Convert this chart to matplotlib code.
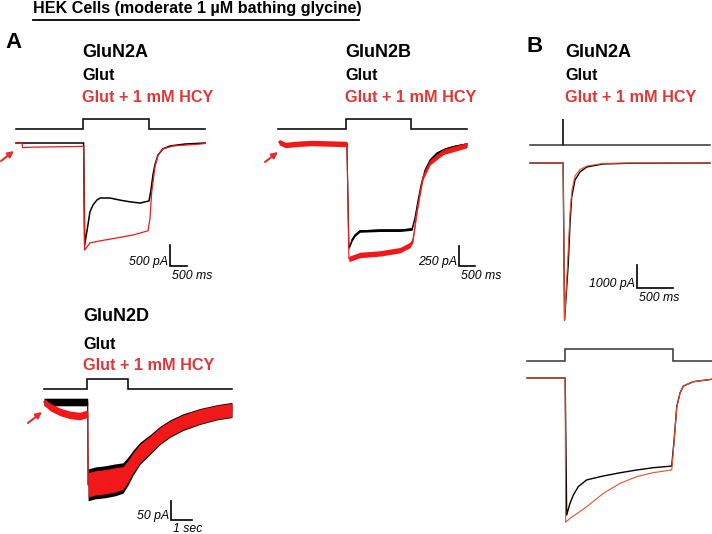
import matplotlib
matplotlib.use("Agg")
import matplotlib.pyplot as plt
from matplotlib.lines import Line2D
import numpy as np

plt.rcParams['font.family'] = ['Liberation Sans', 'DejaVu Sans']

W, H = 712, 534

# ---------------- data (t in ms, I in pA) ----------------
# Panel A, GluN2A
a2a_t_black = [0, 2050, 2080, 2180, 2240, 2330, 2450, 2550, 2850, 3150, 3450, 3760, 4030, 4090, 4150, 4210, 4300, 4450, 4670, 5120, 5730]
a2a_i_black = [0, 0, -2430, -1950, -1640, -1480, -1360, -1310, -1310, -1360, -1400, -1430, -1380, -1120, -760, -520, -290, -140, -70, -25, 0]
a2a_t_red = [0, 180, 200, 500, 2050, 2080, 2240, 2545, 3060, 3545, 4000, 4060, 4110, 4210, 4300, 4455, 4760, 5580, 5730]
a2a_i_red = [0, 0, -110, -100, -80, -2550, -2380, -2330, -2260, -2190, -2090, -1800, -1190, -570, -290, -140, -70, -25, -10]

# Panel A, GluN2B
a2b_t_black = [0, 200, 500, 1000, 1500, 2000, 2090, 2150, 2250, 2340, 2490, 3110, 3720, 4090, 4180, 4280, 4370, 4490, 4650, 4860, 5110, 5415, 5780]
a2b_i_black = [12, -25, -12, 0, -6, -12, -12, -1310, -1210, -1150, -1100, -1090, -1090, -1075, -940, -710, -525, -340, -210, -125, -75, -40, -12]
a2b_t_red = [0, 200, 500, 1000, 1500, 2000, 2090, 2150, 2490, 3110, 3720, 4030, 4120, 4250, 4340, 4430, 4650, 5050, 5785]
a2b_i_red = [12, -25, -12, 0, -6, -12, -12, -1450, -1400, -1380, -1340, -1275, -1210, -840, -625, -425, -240, -112, -25]
a2b_noise_black = 16
a2b_noise_red = 34

# Panel A, GluN2D
a2d_t_black = [0, 500, 1000, 1500, 2000, 2080, 2100, 2430, 2900, 3380, 3760, 4000, 4240, 4570, 5050, 5520, 6000, 6620, 7430, 8240, 8950]
a2d_i_black = [0, 0, 0, 0, 0, 0, -218, -213, -210, -205, -200, -182, -160, -135, -112, -88, -70, -53, -38, -27, -21]
a2d_n_black = [10, 10, 10, 10, 10, 10, 42, 42, 42, 42, 40, 37, 33, 29, 26, 24, 23, 22, 21, 20, 20]
a2d_t_red = [0, 290, 760, 1240, 1710, 2000, 2080, 2100, 2430, 2900, 3380, 3760, 4000, 4240, 4570, 5050, 5520, 6000, 6620, 7430, 8240, 8950]
a2d_i_red = [0, -13, -26, -34, -37, -32, -32, -218, -213, -210, -205, -200, -182, -160, -135, -112, -88, -70, -53, -38, -27, -21]
a2d_n_red = [9, 10, 10, 10, 10, 10, 10, 32, 32, 32, 32, 30, 28, 26, 24, 22, 21, 20, 19, 19, 18, 18]

# Panel B, GluN2A brief pulse
b1_t_black = [0, 460, 480, 532, 556, 579, 625, 694, 788, 1014, 1390, 2500]
b1_i_black = [0, 0, -6830, -4350, -2610, -1480, -740, -390, -174, -43, -10, 0]
b1_t_red = [0, 460, 480, 528, 556, 583, 625, 694, 792, 1014, 1390, 2500]
b1_i_red = [0, 0, -6830, -4000, -2170, -1170, -565, -280, -130, -20, 0, 0]

# Panel B, GluN2A long pulse
b2_t_black = [0, 530, 551, 597, 643, 713, 829, 1060, 1292, 1524, 1754, 2010, 2043, 2080, 2125, 2171, 2310, 2565]
b2_i_black = [0, 0, -5960, -5450, -5090, -4720, -4430, -4260, -4120, -4000, -3900, -3830, -2700, -1250, -650, -350, -160, -57]
b2_t_red = [0, 530, 537, 597, 713, 829, 1060, 1292, 1524, 1754, 2010, 2043, 2080, 2125, 2171, 2310, 2565]
b2_i_red = [0, 0, -6275, -6100, -5856, -5595, -5015, -4580, -4290, -4115, -4000, -2750, -1280, -660, -350, -160, -57]

# stimulus steps: (start, on, off, end) in ms
stim_a2a = [0, 2030, 4030, 5730]
stim_a2b = [-30, 2062, 4062, 5785]
stim_a2d = [0, 2048, 4000, 8952]
stim_b1 = [0, 458, 458, 2500]
stim_b2 = [0, 528, 2028, 2570]

RED = '#f01818'
RED_B = '#e8502f'
RED_TXT = '#e23636'

fig = plt.figure(figsize=(W / 100, H / 100), dpi=100)


def panel_axes(x0, y0, sx, sy, tlim, ilim):
    left = x0 + tlim[0] * sx
    right = x0 + tlim[1] * sx
    top = y0 - ilim[1] * sy
    bottom = y0 - ilim[0] * sy
    ax = fig.add_axes([left / W, 1 - bottom / H, (right - left) / W, (bottom - top) / H])
    ax.set_xlim(tlim)
    ax.set_ylim(ilim)
    ax.axis('off')
    return ax


def stim(ax, s, low, high, color='#111111', lw=1.2):
    t0, on, off, t1 = s
    ax.plot([t0, on, on, off, off, t1], [low, low, high, high, low, low],
            color=color, lw=lw, solid_joinstyle='miter', clip_on=False)


def scalebar(ax, t, i, dt, di, ylab, xlab, fs=8.8, xoff=-13):
    ax.plot([t, t, t + dt], [i + di, i, i], color='black', lw=1.2, clip_on=False,
            solid_joinstyle='miter')
    ax.annotate(ylab, (t, i), xytext=(-2, 1), textcoords='offset pixels',
                ha='right', va='baseline', fontsize=fs, style='italic',
                annotation_clip=False)
    ax.annotate(xlab, (t, i), xytext=(2, xoff), textcoords='offset pixels',
                ha='left', va='baseline', fontsize=fs, style='italic',
                annotation_clip=False)


zc = [2]


def band(ax, t, i, n, color, lw=0.8):
    t = np.asarray(t, float)
    i = np.asarray(i, float)
    n = np.broadcast_to(np.asarray(n, float), i.shape)
    ax.fill_between(t, i - n, i + n, color=color, lw=0, clip_on=False, zorder=zc[0])
    ax.plot(t, i, color=color, lw=lw, clip_on=False, zorder=zc[0] + 0.1)
    zc[0] += 1


# ---- Panel A GluN2A ----
ax = panel_axes(16, 143, 0.033, 0.042, (0, 5730), (-2700, 650))
stim(ax, stim_a2a, 333, 571)
ax.plot(a2a_t_black, a2a_i_black, color='black', lw=1.1, clip_on=False)
ax.plot(a2a_t_red, a2a_i_red, color=RED, lw=0.9, clip_on=False)
scalebar(ax, 4667, -2929, 500, 500, '500 pA', '500 ms')

# ---- Panel A GluN2B ----
ax = panel_axes(279, 143, 0.0325, 0.08, (-30, 5790), (-1600, 320))
stim(ax, stim_a2b, 175, 300)
band(ax, a2b_t_black, a2b_i_black, a2b_noise_black, 'black')
band(ax, a2b_t_red, a2b_i_red, a2b_noise_red, RED)
ax.plot(a2b_t_black[8:14], a2b_i_black[8:14], color='black', lw=1.0, zorder=10)
scalebar(ax, 5538, -1537, 500, 250, '250 pA', '500 ms')

# ---- Panel A GluN2D ----
ax = panel_axes(44, 402, 0.021, 0.38, (0, 8960), (-330, 70))
stim(ax, stim_a2d, 34, 60.5)
band(ax, a2d_t_black, a2d_i_black, a2d_n_black, 'black')
band(ax, a2d_t_red, a2d_i_red, a2d_n_red, RED)
scalebar(ax, 6048, -310.5, 1000, 50, '50 pA', '1 sec', xoff=-12)

# ---- Panel B brief pulse ----
ax = panel_axes(530, 163, 0.072, 0.023, (0, 2500), (-7000, 2000))
stim(ax, stim_b1, 783, 1913, color='#333333', lw=1.1)
ax.plot(b1_t_black, b1_i_black, color='black', lw=1.0, clip_on=False)
ax.plot(b1_t_red, b1_i_red, color=RED_B, lw=0.8, clip_on=False)
scalebar(ax, 1486, -5435, 500, 1000, '1000 pA', '500 ms')

# ---- Panel B long pulse ----
ax = panel_axes(527, 378, 0.072, 0.023, (0, 2570), (-6400, 1300))
stim(ax, stim_b2, 739, 1261, color='#333333', lw=1.1)
ax.plot(b2_t_black, b2_i_black, color='black', lw=1.0, clip_on=False)
ax.plot(b2_t_red, b2_i_red, color=RED_B, lw=0.8, clip_on=False)


# ---------------- text ----------------
def ftext(x, y, s, **kw):
    fig.text(x / W, 1 - y / H, s, va='baseline', **kw)


ftext(33, 13.5, 'HEK Cells (moderate 1 \u00b5M bathing glycine)', fontsize=11.6, fontweight='bold')
fig.add_artist(Line2D([33 / W, 359 / W], [1 - 20 / H, 1 - 20 / H], color='black', lw=1.3))
ftext(5, 48, 'A', fontsize=16, fontweight='bold')
ftext(527, 52, 'B', fontsize=16, fontweight='bold')

for x, y0, name in [(82, 57, 'GluN2A'), (345, 57, 'GluN2B'), (83, 321, 'GluN2D'), (565, 57, 'GluN2A')]:
    ftext(x, y0, name, fontsize=13, fontweight='bold')
    ftext(x, y0 + 23.5 if y0 == 57 else y0 + 28, 'Glut', fontsize=11.7, fontweight='bold')
    ftext(x, y0 + 44.5 if y0 == 57 else y0 + 49, 'Glut + 1 mM HCY', fontsize=11.7,
          fontweight='bold', color=RED_TXT)

# red arrows
for tail, head in [((1, 161), (14, 151)), ((265, 162), (278, 152)), ((28, 423), (42, 412))]:
    fig.add_artist(matplotlib.patches.FancyArrowPatch(
        (tail[0] / W, 1 - tail[1] / H), (head[0] / W, 1 - head[1] / H),
        transform=fig.transFigure, arrowstyle='-|>', mutation_scale=9,
        color='#e03030', lw=1.5, shrinkA=0, shrinkB=0))

fig.savefig('out.png', dpi=100)
